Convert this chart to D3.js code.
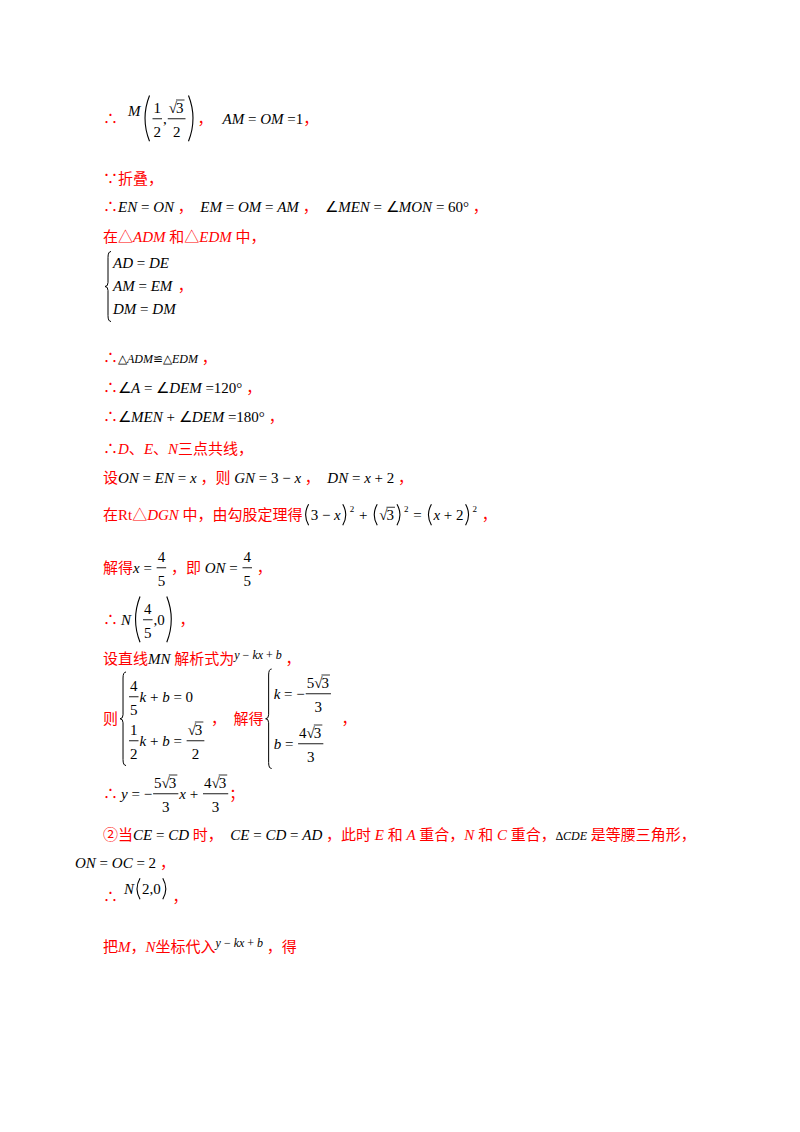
<!DOCTYPE html>
<html><head><meta charset="utf-8">
<script src="https://cdn.jsdelivr.net/npm/d3@7"></script>
<style>body{margin:0;background:#fff}</style>
</head><body><div id="page"></div>
<script>
// item builders
const R = s => ({k: "t", s, c: "#f00", f: "Liberation Serif, Noto Sans CJK SC", i: false});
const Ri = s => ({k: "t", s, c: "#f00", f: "Liberation Serif", i: true});
const M = s => ({k: "t", s, c: "#000", f: "Liberation Serif", i: true});
const N = s => ({k: "t", s, c: "#000", f: "Liberation Serif", i: false});
const G = w => ({k: "g", w});
const F = (n, d) => ({k: "f", n, d});
const Q = s => ({k: "q", s});
const P = (items, tall) => ({k: "p", items, tall});
const S = items => ({k: "sup", items});
const B = (rows, gap) => ({k: "b", rows, gap});

const lines = [
  {x: 103, y: 124, items: [R("∴"), G(10), {k: "raise", d: -8, items: [M("M")]}, P([F([N("1")], [N("2")]), N(","), F([Q("3")], [N("2")])], true), R("，"), G(10), M("AM"), N(" = "), M("OM"), N(" =1"), R("，")]},
  {x: 103, y: 184, items: [R("∵折叠，")]},
  {x: 103, y: 212, items: [R("∴"), M("EN"), N(" = "), M("ON"), R(" ，  "), M("EM"), N(" = "), M("OM"), N(" = "), M("AM"), R(" ，  "), N("∠"), M("MEN"), N(" = ∠"), M("MON"), N(" = 60°"), R(" ，")]},
  {x: 103, y: 242, items: [R("在△"), Ri("ADM"), R(" 和△"), Ri("EDM"), R(" 中，")]},
  {x: 103, y: 291, items: [B([[M("AD"), N(" = "), M("DE")], [M("AM"), N(" = "), M("EM")], [M("DM"), N(" = "), M("DM")]], 23), R("，")]},
  {x: 103, y: 363, items: [R("∴"), {k: "small", items: [N("△"), M("ADM"), N("≌△"), M("EDM")]}, R(" ，")]},
  {x: 103, y: 393, items: [R("∴"), N("∠"), M("A"), N(" = ∠"), M("DEM"), N(" =120°"), R(" ，")]},
  {x: 103, y: 422, items: [R("∴"), N("∠"), M("MEN"), N(" + ∠"), M("DEM"), N(" =180°"), R(" ，")]},
  {x: 103, y: 454, items: [R("∴"), Ri("D"), R("、"), Ri("E"), R("、"), Ri("N"), R("三点共线，")]},
  {x: 103, y: 483, items: [R("设"), M("ON"), N(" = "), M("EN"), N(" = "), M("x"), R(" ，则 "), M("GN"), N(" = 3 − "), M("x"), R(" ，  "), M("DN"), N(" = "), M("x"), N(" + 2"), R(" ，")]},
  {x: 103, y: 520, items: [R("在Rt△"), Ri("DGN"), R(" 中，由勾股定理得"), P([N("3 − "), M("x")]), S([N("2")]), N(" + "), P([Q("3")]), S([N("2")]), N(" = "), P([M("x"), N(" + 2")]), S([N("2")]), R(" ，")]},
  {x: 103, y: 573, items: [R("解得"), M("x"), N(" = "), F([N("4")], [N("5")]), R(" ，即 "), M("ON"), N(" = "), F([N("4")], [N("5")]), R(" ，")]},
  {x: 103, y: 625, items: [R("∴"), G(3), M("N"), P([F([N("4")], [N("5")]), N(",0")], true), R(" ，")]},
  {x: 103, y: 664, items: [R("设直线"), M("MN"), R(" 解析式为"), {k: "raise", d: -5, items: [{k: "small", items: [M("y"), N(" − "), M("kx"), N(" + "), M("b")]}]}, R(" ，")]},
  {x: 103, y: 724, items: [R("则"), B([[F([N("4")], [N("5")]), M("k"), N(" + "), M("b"), N(" = 0")], [F([N("1")], [N("2")]), M("k"), N(" + "), M("b"), N(" = "), F([Q("3")], [N("2")])]], 44), R(" ，  解得"), B([[M("k"), N(" = −"), F([N("5"), Q("3")], [N("3")])], [M("b"), N(" = "), F([N("4"), Q("3")], [N("3")])]], 50), R("  ，")]},
  {x: 103, y: 799, items: [R("∴"), G(3), M("y"), N(" = −"), F([N("5"), Q("3")], [N("3")]), M("x"), N(" + "), F([N("4"), Q("3")], [N("3")]), R("；")]},
  {x: 103, y: 840, items: [R("②当"), M("CE"), N(" = "), M("CD"), R(" 时，  "), M("CE"), N(" = "), M("CD"), N(" = "), M("AD"), R(" ，此时 "), Ri("E"), R(" 和 "), Ri("A"), R(" 重合，"), Ri("N"), R(" 和 "), Ri("C"), R(" 重合，"), {k: "small", items: [N("∆"), M("CDE")]}, R(" 是等腰三角形，")]},
  {x: 75, y: 868, items: [M("ON"), N(" = "), M("OC"), N(" = 2"), R(" ，")]},
  {x: 103, y: 902, items: [R("∴"), G(6), {k: "raise", d: -8, items: [M("N"), P([N("2,0")])]}, R(" ，")]},
  {x: 103, y: 952, items: [R("把"), Ri("M"), R("，"), Ri("N"), R("坐标代入"), {k: "raise", d: -5, items: [{k: "small", items: [M("y"), N(" − "), M("kx"), N(" + "), M("b")]}]}, R(" ，得")]}
];

const svg = d3.select("#page").append("svg").attr("width", 800).attr("height", 1132);

function txt(g, it, x, y, size) {
  const t = g.append("text").attr("x", x).attr("y", y).attr("font-size", size)
    .attr("font-family", it.f).attr("font-style", it.i ? "italic" : "normal")
    .attr("fill", it.c).attr("xml:space", "preserve").style("white-space", "pre").text(it.s);
  return t.node().getComputedTextLength();
}

function layout(g, items, x, y, size) {
  let x0 = x;
  items.forEach(it => { x += draw(g, it, x, y, size); });
  return x - x0;
}

function draw(g, it, x, y, size) {
  if (it.k === "t") return txt(g, it, x, y, size);
  if (it.k === "g") return it.w;
  if (it.k === "small") return layout(g, it.items, x, y, size * 0.8);
  if (it.k === "raise") return layout(g, it.items, x, y + it.d, size);
  if (it.k === "sup") return layout(g, it.items, x + 1, y - size * 0.55, size * 0.6) + 2;
  if (it.k === "q") {
    const w1 = txt(g, N("√"), x, y, size);
    const w2 = txt(g, N(it.s), x + w1 - 1, y, size);
    g.append("line").attr("x1", x + w1 - 1).attr("x2", x + w1 + w2)
      .attr("y1", y - size * 0.85).attr("y2", y - size * 0.85).attr("stroke", "#000").attr("stroke-width", 0.8);
    return w1 + w2;
  }
  if (it.k === "f") {
    const tmp = g.append("g").attr("opacity", 0);
    const wn = layout(tmp, it.n, 0, 0, size), wd = layout(tmp, it.d, 0, 0, size);
    tmp.remove();
    const w = Math.max(wn, wd) + 4;
    layout(g, it.n, x + (w - wn) / 2, y - size * 0.75, size);
    layout(g, it.d, x + (w - wd) / 2, y + size * 0.85, size);
    g.append("line").attr("x1", x + 1).attr("x2", x + w - 1).attr("y1", y - size * 0.35).attr("y2", y - size * 0.35)
      .attr("stroke", "#000").attr("stroke-width", 0.9);
    return w;
  }
  if (it.k === "p") {
    const top = it.tall ? y - size * 1.9 : y - size * 1.05;
    const bot = it.tall ? y + size * 1.15 : y + size * 0.35;
    const pw = it.tall ? 9 : 6;
    const path = (xa, dir) => `M${xa},${top} Q${xa - dir * pw},${(top + bot) / 2} ${xa},${bot}`;
    g.append("path").attr("d", path(x + pw, 1)).attr("fill", "none").attr("stroke", "#000").attr("stroke-width", 1.1);
    const w = layout(g, it.items, x + pw + 2, y, size);
    const xe = x + pw + 2 + w + 2;
    g.append("path").attr("d", path(xe, -1)).attr("fill", "none").attr("stroke", "#000").attr("stroke-width", 1.1);
    return xe + pw - x;
  }
  if (it.k === "b") {
    const n = it.rows.length, gap = it.gap;
    const y0 = y - gap * (n - 1) / 2;
    const top = y0 - size * (it.gap > 30 ? 2 : 1.1), bot = y0 + gap * (n - 1) + size * (it.gap > 30 ? 1.3 : 0.5);
    const mid = (top + bot) / 2, bx = x + 5;
    g.append("path").attr("d", `M${bx + 3},${top} Q${bx},${top} ${bx},${top + 6} L${bx},${mid - 4} Q${bx},${mid} ${bx - 3},${mid} Q${bx},${mid} ${bx},${mid + 4} L${bx},${bot - 6} Q${bx},${bot} ${bx + 3},${bot}`)
      .attr("fill", "none").attr("stroke", "#000").attr("stroke-width", 1);
    let wmax = 0;
    it.rows.forEach((row, i) => { wmax = Math.max(wmax, layout(g, row, x + 10, y0 + i * gap, size)); });
    return wmax + 12;
  }
  return 0;
}

lines.forEach(l => layout(svg.append("g"), l.items, l.x, l.y, 15));
</script></body></html>
